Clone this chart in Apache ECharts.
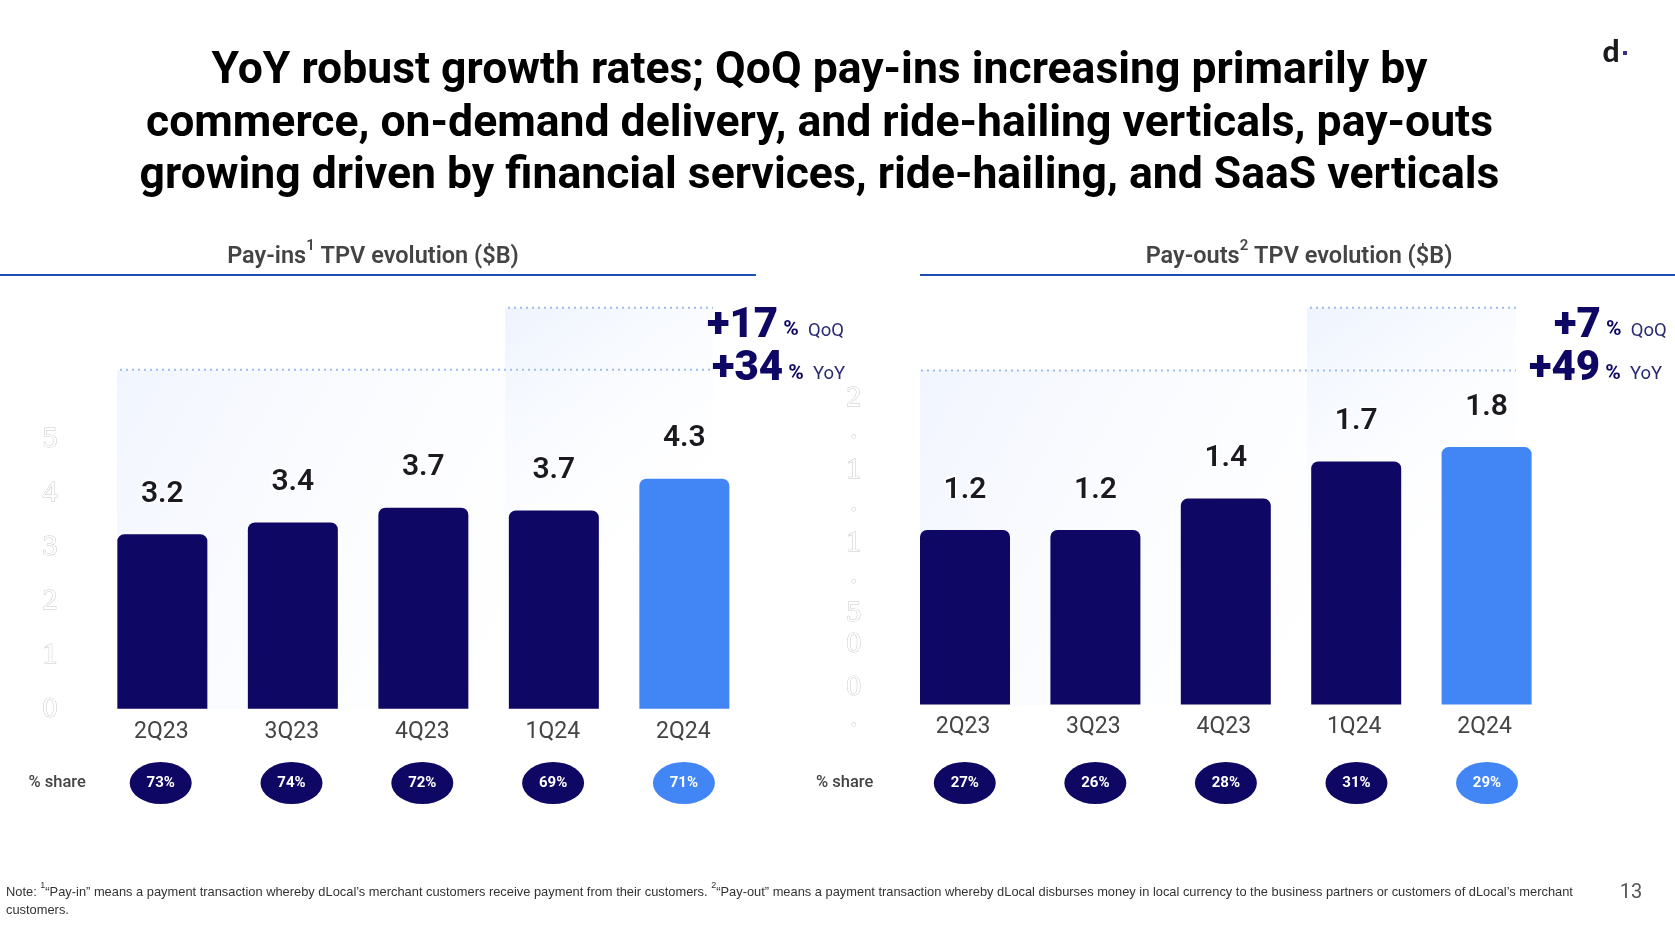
<!DOCTYPE html>
<html>
<head>
<meta charset="utf-8">
<title>TPV evolution</title>
<script src="https://cdn.jsdelivr.net/npm/echarts@6/dist/echarts.min.js"></script>
<style>
html, body { margin: 0; padding: 0; background: #fff; }
#chart { width: 1675px; height: 936px; }
</style>
</head>
<body>
<div id="chart"></div>
<script>
const quarters = ['2Q23', '3Q23', '4Q23', '1Q24', '2Q24'];

// bar heights, the printed labels are kept apart
const payInsValues = [3.23, 3.45, 3.72, 3.67, 4.26];
const payInsLabels = ['3.2', '3.4', '3.7', '3.7', '4.3'];
const payInsShare = [73, 74, 72, 69, 71];

const payOutsValues = [1.22, 1.22, 1.44, 1.70, 1.80];
const payOutsLabels = ['1.2', '1.2', '1.4', '1.7', '1.8'];
const payOutsShare = [27, 26, 28, 31, 29];

// the faint axis on the right is broken up in the source, one glyph per tick
const payOutsTickValues = [2.14, 1.86, 1.64, 1.35, 1.13, 0.85, 0.64, 0.42, 0.12, -0.15];
const payOutsTickLabels = ['2', '·', '1', '·', '1', '·', '5', '0', '0', '·'];

const NAVY = '#0e0764';
const BLUE = '#4285f4';

const titleText = 'YoY robust growth rates; QoQ pay-ins increasing primarily by\n'
  + 'commerce, on-demand delivery, and ride-hailing verticals, pay-outs\n'
  + 'growing driven by financial services, ride-hailing, and SaaS verticals';

const ghostLabel = {
  fontFamily: 'Liberation Sans Narrow',
  fontSize: 30,
  color: '#fff',
  textBorderColor: '#c8c8c8',
  textBorderWidth: 1,
  align: 'center'
};

function barSeries(axisIndex, values, labels) {
  return {
    type: 'bar',
    xAxisIndex: axisIndex,
    yAxisIndex: axisIndex,
    barWidth: 90,
    silent: true,
    data: values.map((v, i) => ({
      value: v,
      itemStyle: { color: i === values.length - 1 ? BLUE : NAVY, borderRadius: [7, 7, 0, 0] },
      label: { formatter: labels[i] }
    })),
    label: {
      show: true,
      position: 'top',
      distance: 25,
      fontFamily: 'Roboto',
      fontSize: 30,
      fontWeight: 600,
      color: '#1a1a20',
      textBorderColor: '#fff',
      textBorderWidth: 3
    }
  };
}

function shareSeries(axisIndex, shares) {
  return {
    type: 'scatter',
    xAxisIndex: axisIndex,
    yAxisIndex: axisIndex,
    symbol: 'circle',
    symbolSize: [62, 42],
    silent: true,
    data: shares.map((v, i) => ({
      value: [i, 0.5],
      itemStyle: { color: i === shares.length - 1 ? BLUE : NAVY, opacity: 1 },
      label: { formatter: v + '%' }
    })),
    label: {
      show: true,
      position: 'inside',
      fontFamily: 'Roboto',
      fontSize: 15,
      fontWeight: 700,
      color: '#fff'
    }
  };
}

function categoryAxis(gridIndex, showLabels, labelPad, offset) {
  return {
    type: 'category',
    gridIndex,
    data: quarters,
    offset,
    axisLine: { show: false, onZero: false },
    axisTick: { show: false },
    axisLabel: {
      show: showLabels,
      margin: 12,
      padding: [0, labelPad, 0, 0],
      fontFamily: 'Roboto',
      fontSize: 23,
      color: '#444'
    }
  };
}

function hiddenValueAxis(gridIndex) {
  return { type: 'value', gridIndex, min: 0, max: 1, show: false };
}

function panel(x, y, width, height, from) {
  return {
    type: 'rect',
    shape: { x, y, width, height },
    style: {
      fill: new echarts.graphic.LinearGradient(0, 0, 1, 1, [
        { offset: 0, color: from },
        { offset: 0.85, color: 'rgba(255,255,255,0)' }
      ])
    }
  };
}

function dotted(x1, x2, y) {
  return {
    type: 'line',
    shape: { x1, y1: y, x2, y2: y },
    style: { stroke: '#9dbdec', lineWidth: 2, lineDash: [2, 4] }
  };
}

function rule(x1, x2) {
  return {
    type: 'line',
    shape: { x1, y1: 275, x2, y2: 275 },
    style: { stroke: '#1f4fb4', lineWidth: 2 }
  };
}

function heading(x, name, mark) {
  return {
    type: 'text',
    style: {
      x, y: 254,
      align: 'center', verticalAlign: 'middle',
      text: `{a|${name}}{s|${mark}}{a| TPV evolution ($B)}`,
      rich: {
        a: { fontFamily: 'Roboto', fontSize: 23.5, fontWeight: 600, fill: '#444', lineHeight: 30, verticalAlign: 'bottom' },
        s: { fontFamily: 'Roboto', fontSize: 15, fontWeight: 600, fill: '#444', lineHeight: 14, verticalAlign: 'top' }
      }
    }
  };
}

function growth(x, y, big, name) {
  return {
    type: 'text',
    style: {
      x, y,
      align: 'left', verticalAlign: 'middle',
      text: `{b|${big}}{p| %}{n|  ${name}}`,
      rich: {
        b: { fontFamily: 'Roboto', fontSize: 42, fontWeight: 900, fill: NAVY, lineHeight: 29, verticalAlign: 'middle' },
        p: { fontFamily: 'Roboto', fontSize: 21, fontWeight: 700, fill: NAVY, lineHeight: 29, verticalAlign: 'bottom' },
        n: { fontFamily: 'Roboto', fontSize: 18.5, fill: '#2c2a72', lineHeight: 29, verticalAlign: 'bottom' }
      }
    }
  };
}

function shareCaption(x) {
  return {
    type: 'text',
    style: {
      x, y: 782.5, align: 'left', verticalAlign: 'middle',
      text: '% share',
      fontFamily: 'Roboto', fontSize: 16.5, fontWeight: 500, fill: '#444'
    }
  };
}

const noteText = '{n|Note: }{s|1}{n|“Pay-in” means a payment transaction whereby dLocal’s merchant customers receive payment from their customers. }'
  + '{s|2}{n|“Pay-out” means a payment transaction whereby dLocal disburses money in local currency to the business partners or customers of dLocal’s merchant}\n'
  + '{n|customers.}';

const chart = echarts.init(document.getElementById('chart'));

chart.setOption({
  animation: false,
  backgroundColor: '#fff',
  grid: [
    { left: 97.1, top: 438.7, width: 652.5, height: 270 },
    { left: 95.3, top: 773, width: 654, height: 20 },
    { left: 899.8, top: 389.9, width: 652, height: 343.2 },
    { left: 899.5, top: 773, width: 652.8, height: 20 }
  ],
  xAxis: [
    categoryAxis(0, true, 2, 0),
    categoryAxis(1, false, 0, 0),
    categoryAxis(2, true, 4, -29.6),
    categoryAxis(3, false, 0, 0)
  ],
  yAxis: [
    {
      type: 'value',
      gridIndex: 0,
      min: 0,
      max: 5,
      interval: 1,
      axisLine: { show: false },
      axisTick: { show: false },
      splitLine: { show: false },
      axisLabel: { ...ghostLabel, margin: 47 }
    },
    hiddenValueAxis(1),
    {
      type: 'value',
      gridIndex: 2,
      min: -0.2,
      max: 2.2,
      axisLine: { show: false },
      axisTick: { show: false },
      splitLine: { show: false },
      axisLabel: {
        ...ghostLabel,
        margin: 46,
        customValues: payOutsTickValues,
        formatter: (v) => payOutsTickLabels[payOutsTickValues.indexOf(v)]
      }
    },
    hiddenValueAxis(3)
  ],
  series: [
    barSeries(0, payInsValues, payInsLabels),
    shareSeries(1, payInsShare),
    barSeries(2, payOutsValues, payOutsLabels),
    shareSeries(3, payOutsShare)
  ],
  graphic: [
    panel(117, 370, 596, 339, '#f1f5fe'),
    panel(505, 308, 208, 290, '#eef4fe'),
    panel(920, 370, 596, 335, '#f1f5fe'),
    panel(1307, 308, 209, 290, '#eef4fe'),
    dotted(120, 713, 369.7),
    dotted(508, 713, 307.7),
    dotted(921, 1516, 370.4),
    dotted(1310, 1516, 307.7),
    rule(0, 756),
    rule(920, 1675),
    {
      type: 'text',
      style: {
        x: 819.5, y: 124.5,
        align: 'center', verticalAlign: 'middle',
        text: titleText,
        fontFamily: 'Roboto', fontSize: 44.5, fontWeight: 700, lineHeight: 52.4, fill: '#000'
      }
    },
    heading(373, 'Pay-ins', '1'),
    heading(1299, 'Pay-outs', '2'),
    growth(707, 326, '+17', 'QoQ'),
    growth(712, 369.5, '+34', 'YoY'),
    growth(1554, 326, '+7', 'QoQ'),
    growth(1529, 369.5, '+49', 'YoY'),
    shareCaption(28.5),
    shareCaption(816),
    {
      type: 'text',
      style: {
        x: 6, y: 899,
        align: 'left', verticalAlign: 'middle',
        text: noteText,
        rich: {
          n: { fontFamily: 'Liberation Sans', fontSize: 12.87, fill: '#333', lineHeight: 18, verticalAlign: 'bottom' },
          s: { fontFamily: 'Liberation Sans', fontSize: 9, fill: '#333', lineHeight: 12, verticalAlign: 'top' }
        }
      }
    },
    {
      type: 'text',
      style: {
        x: 1631, y: 893, align: 'center', verticalAlign: 'middle',
        text: '13',
        fontFamily: 'Roboto', fontSize: 20, fill: '#555'
      }
    },
    {
      type: 'text',
      style: {
        x: 1611, y: 52, align: 'center', verticalAlign: 'middle',
        text: 'd',
        fontFamily: 'Lato', fontSize: 30, fontWeight: 900, fill: '#1b1b1f'
      }
    },
    {
      type: 'rect',
      shape: { x: 1623, y: 51, width: 4, height: 4 },
      style: { fill: '#3b2f7d' }
    }
  ]
});

window.addEventListener('resize', () => chart.resize());
</script>
</body>
</html>
